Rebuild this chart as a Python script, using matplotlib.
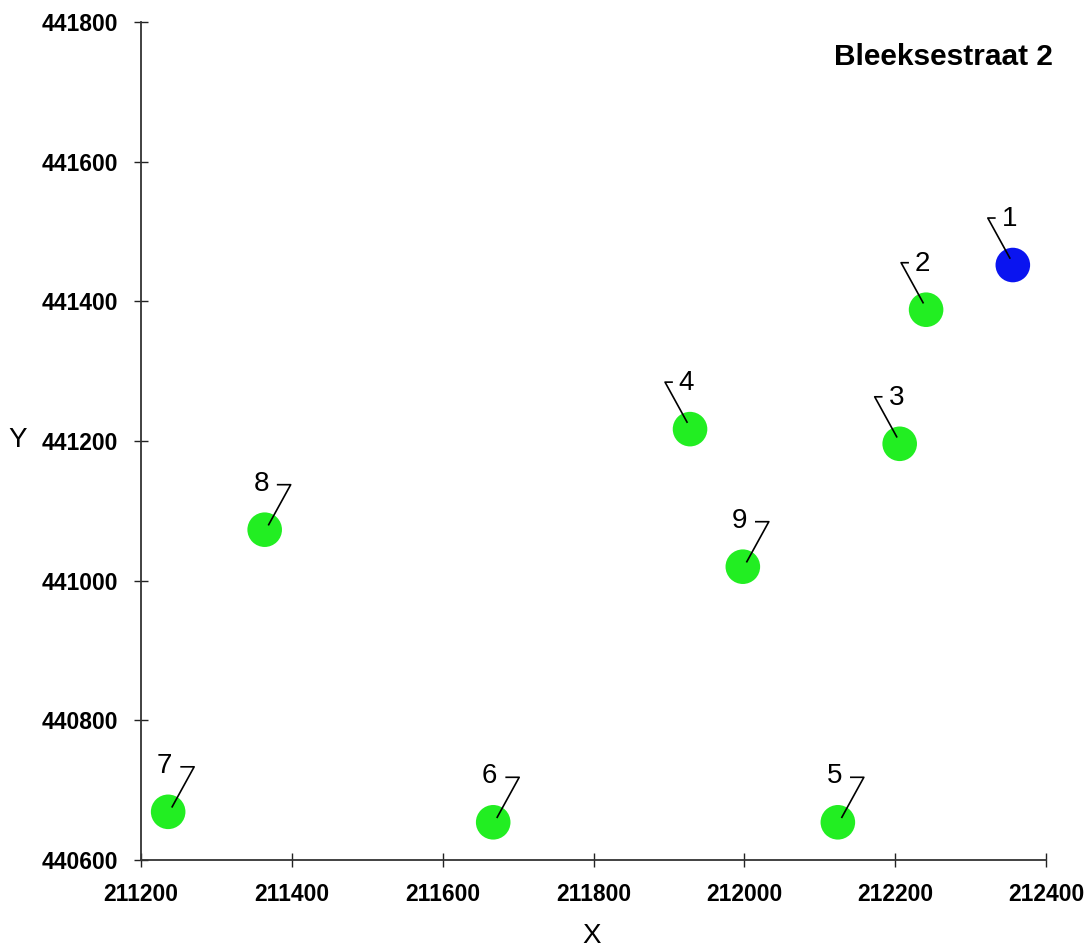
import matplotlib
matplotlib.use("Agg")
import matplotlib.pyplot as plt
from matplotlib.transforms import Affine2D, ScaledTranslation

plt.rcParams['font.family'] = ['Liberation Sans', 'DejaVu Sans']

# data
labels = ['1', '2', '3', '4', '5', '6', '7', '8', '9']
xs = [212356, 212241, 212206, 211928, 212124, 211667, 211236, 211364, 211998]
ys = [441452, 441388, 441196, 441217, 440654, 440654, 440669, 441073, 441020]
colors = ['#0a14f0', '#22ee22', '#22ee22', '#22ee22', '#22ee22',
          '#22ee22', '#22ee22', '#22ee22', '#22ee22']
leader_side = ['L', 'L', 'L', 'L', 'R', 'R', 'R', 'R', 'R']
xticks = [211200, 211400, 211600, 211800, 212000, 212200, 212400]
yticks = [440600, 440800, 441000, 441200, 441400, 441600, 441800]
title = 'Bleeksestraat 2'

fig = plt.figure(figsize=(10.86, 9.49), dpi=100)
ax = fig.add_axes([141/1086, 1 - 860/949, (1046-141)/1086, (860-22)/949])

ax.scatter(xs, ys, s=620, c=colors, edgecolors='none', zorder=2)

# leader line templates in pixel offsets (y downward)
templates = {
    'L': ([-3, -25, -18], [-7, -47, -47]),
    'R': ([4, 26, 13], [-5, -45, -45]),
}
for lab, x, y, side in zip(labels, xs, ys, leader_side):
    tr = Affine2D().scale(1, -1) + ScaledTranslation(x, y, ax.transData)
    lx, ly = templates[side]
    ax.plot(lx, ly, color='black', lw=1.2, transform=tr, zorder=3)
    ax.text(-3.5, -46, lab, transform=tr, ha='center', va='center',
            fontsize=20, color='black', zorder=4)

ax.set_xlim(211200, 212400)
ax.set_ylim(440600, 441800)
ax.set_xticks(xticks)
ax.set_yticks(yticks)
ax.set_xticklabels([str(v) for v in xticks], fontsize=16.5, fontweight='bold')
ax.set_yticklabels([str(v) for v in yticks], fontsize=16.5, fontweight='bold')
ax.tick_params(direction='inout', length=10.5, width=1.0, pad=11.5, color='#222222')

for s in ['top', 'right']:
    ax.spines[s].set_visible(False)
for s in ['left', 'bottom']:
    ax.spines[s].set_linewidth(1.3)
    ax.spines[s].set_color('#333333')

fig.text(592/1086, 1 - 936/949, 'X', ha='center', va='center', fontsize=20)
fig.text(18/1086, 1 - 440/949, 'Y', ha='center', va='center', fontsize=20)
fig.text(1053/1086, 1 - 57/949, title, ha='right', va='center',
         fontsize=21.5, fontweight='bold')

fig.savefig('out.png', dpi=100, facecolor='white')
